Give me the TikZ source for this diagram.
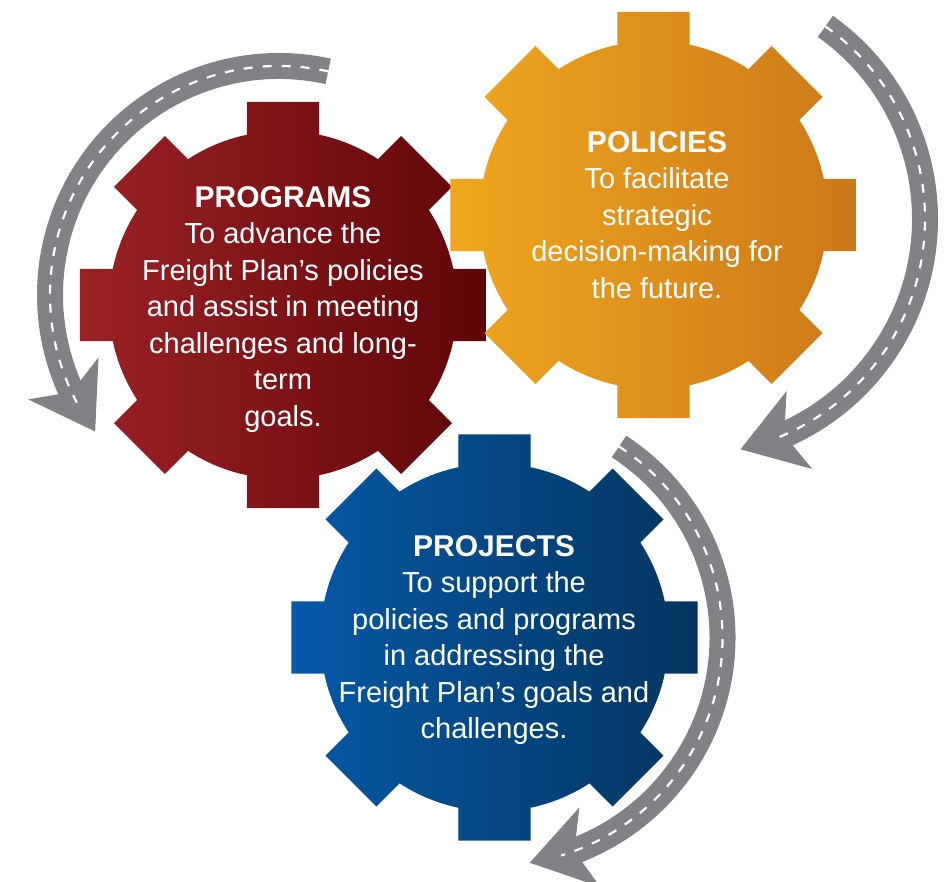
\documentclass[tikz,border=0pt]{standalone}
\usepackage{fontspec}
\setmainfont{Liberation Sans}
\usepackage{tikz}
\usetikzlibrary{arrows.meta,bending}
\definecolor{progizq}{HTML}{9B2226}
\definecolor{progder}{HTML}{600508}
\definecolor{polizq}{HTML}{F0A71E}
\definecolor{polder}{HTML}{CB7819}
\definecolor{projizq}{HTML}{0559A8}
\definecolor{projder}{HTML}{04355F}
\definecolor{asfalto}{HTML}{808285}

% eight-tooth gear, filled with a left-to-right shading
\newcommand{\gear}[3]{%
  \shade[left color=#2, right color=#3, shift={(#1)}] (0,0) circle[radius=174]
    \foreach \a in {0,45,...,315}{
      ({\a-10.06}:206.2) -- ({\a+10.06}:206.2) -- ({\a+13.5}:154.3) -- ({\a-13.5}:154.3) -- cycle};
}

\begin{document}
\begin{tikzpicture}[x=1pt, y=1pt,
  rotulo/.style={text=white, align=center, inner sep=0pt, anchor=north, font=\fontsize{29}{36.5}\selectfont},
  titulo/.style={font=\fontsize{30}{36.5}\selectfont\bfseries},
  via/.style={draw=asfalto, line width=26pt, -{Stealth[length=62pt, width=82pt, inset=16pt, line width=0pt, flex]}},
  linea/.style={draw=white, line width=2.2pt, dash pattern=on 9pt off 10pt}]
\useasboundingbox (0,0) rectangle (944,882);
\coordinate (programs) at (283,577);
\coordinate (policies) at (653.5,667);
\coordinate (projects) at (494.5,244.5);
\coordinate (vuelta1) at (279,587);
\coordinate (vuelta2) at (689,663);

\gear{programs}{progizq}{progder}
\gear{policies}{polizq}{polder}
\gear{projects}{projizq}{projder}

\node[rotulo] (t1) at (283,696) {{\fontsize{30}{36.5}\selectfont\bfseries PROGRAMS}\\To advance the\\Freight Plan’s policies\\and assist in meeting\\challenges and long-\\term\\goals.};
\node[rotulo] (t2) at (657,751) {{\fontsize{30}{36.5}\selectfont\bfseries POLICIES}\\To facilitate\\strategic\\decision-making for\\the future.};
\node[rotulo] (t3) at (494,347) {{\fontsize{30}{36.5}\selectfont\bfseries PROJECTS}\\To support the\\policies and programs\\in addressing the\\Freight Plan’s goals and\\challenges.};

% the three curved roads
\draw[via] ([shift={(77.6:229)}]vuelta1) arc[start angle=77.6, end angle=216.6, radius=229];
\draw[linea] ([shift={(77.6:229)}]vuelta1) arc[start angle=77.6, end angle=208, radius=229];
\draw[via] ([shift={(54.7:236)}]vuelta2) arc[start angle=54.7, end angle=-77.4, radius=236];
\draw[linea] ([shift={(54.7:236)}]vuelta2) arc[start angle=54.7, end angle=-68, radius=236];
\draw[via] ([shift={(56.9:228)}]projects) arc[start angle=56.9, end angle=-81.1, radius=228];
\draw[linea] ([shift={(56.9:228)}]projects) arc[start angle=56.9, end angle=-73, radius=228];
\end{tikzpicture}
\end{document}
